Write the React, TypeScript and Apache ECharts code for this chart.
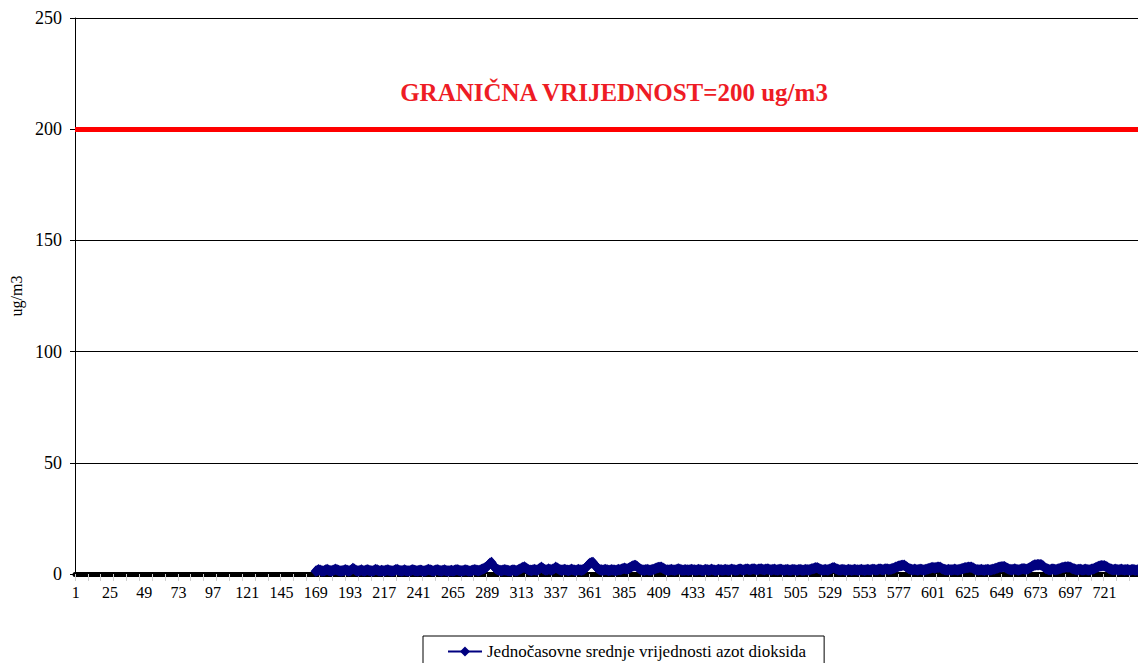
import React, { useEffect, useRef } from "react";
import * as echarts from "echarts";

// Hours of the month (1..744)
const hourCount = 744;
const hourLabels: string[] = Array.from({ length: hourCount }, (_, i) => String(i + 1));

// Hours 1..168 have no measurements
const missingHours = 168;

// Hourly NO2 means, hours 169..744 (one row per day)
const no2Values: number[] = [
  1.2, 1.6, 1.9, 1.7, 1.4, 1.3, 1.5, 1.8, 2.0, 1.7, 1.5, 1.4, 1.6, 1.9, 2.1, 1.8, 1.6, 1.4, 1.3, 1.5, 1.7, 1.9, 1.6, 1.4,
  1.5, 1.9, 2.5, 2.1, 1.7, 1.4, 1.3, 1.6, 1.8, 1.5, 1.4, 1.6, 1.9, 1.7, 1.5, 1.3, 1.4, 1.7, 2.0, 1.8, 1.5, 1.4, 1.6, 1.5,
  1.4, 1.6, 1.8, 1.7, 1.5, 1.3, 1.4, 1.6, 1.9, 2.0, 1.7, 1.5, 1.4, 1.5, 1.8, 1.6, 1.4, 1.3, 1.5, 1.7, 1.9, 1.6, 1.5, 1.4,
  1.5, 1.7, 1.6, 1.4, 1.3, 1.5, 1.8, 2.0, 1.8, 1.6, 1.4, 1.5, 1.7, 1.9, 1.7, 1.5, 1.4, 1.6, 1.8, 1.6, 1.4, 1.3, 1.5, 1.6,
  1.4, 1.6, 1.8, 1.9, 1.7, 1.5, 1.4, 1.5, 1.7, 1.8, 1.6, 1.4, 1.3, 1.5, 1.7, 1.9, 1.8, 1.6, 1.5, 1.7, 2.0, 2.3, 2.6, 2.9,
  3.4, 4.2, 4.8, 5.2, 4.1, 3.2, 2.5, 2.0, 1.8, 1.6, 1.5, 1.7, 1.9, 1.8, 1.6, 1.5, 1.4, 1.6, 1.8, 1.7, 1.5, 1.6, 1.9, 2.2,
  2.6, 2.9, 3.2, 2.7, 2.2, 1.9, 1.7, 1.6, 1.8, 2.0, 1.8, 1.7, 2.1, 2.6, 3.0, 2.5, 2.0, 1.8, 1.9, 2.2, 2.0, 1.8, 2.1, 2.5,
  3.0, 2.6, 2.2, 1.9, 1.7, 1.8, 2.0, 1.9, 1.7, 1.6, 1.8, 2.1, 1.9, 1.7, 1.6, 1.8, 2.0, 1.8, 1.7, 1.9, 2.3, 2.8, 3.5, 4.3,
  4.8, 5.1, 5.2, 4.4, 3.5, 2.7, 2.2, 1.9, 1.8, 1.7, 1.9, 2.0, 1.8, 1.6, 1.7, 1.9, 1.8, 1.7, 1.6, 1.8, 2.0, 1.9, 2.1, 2.4,
  2.6, 2.4, 2.2, 2.5, 2.9, 3.3, 3.6, 3.8, 3.8, 3.3, 2.7, 2.2, 1.9, 1.8, 1.7, 1.9, 2.0, 1.8, 1.7, 1.8, 2.0, 2.2, 2.5, 2.8,
  2.9, 3.0, 3.0, 2.6, 2.2, 1.9, 1.8, 1.7, 1.9, 2.0, 1.8, 1.7, 1.8, 2.1, 2.3, 2.0, 1.8, 1.7, 1.8, 1.9, 1.8, 1.7, 1.9, 2.0,
  1.9, 1.8, 1.7, 1.8, 2.0, 1.9, 1.7, 1.6, 1.8, 2.0, 1.9, 1.7, 1.8, 2.1, 1.9, 1.7, 1.6, 1.8, 2.0, 1.9, 1.8, 1.7, 1.9, 2.0,
  1.8, 1.7, 1.9, 2.1, 2.0, 1.8, 1.7, 1.8, 2.0, 2.2, 2.0, 1.8, 1.9, 2.1, 2.2, 2.0, 1.9, 2.1, 2.3, 2.2, 2.0, 1.9, 2.1, 2.2,
  2.2, 2.0, 1.9, 2.1, 2.2, 2.1, 1.9, 1.8, 2.0, 2.1, 1.9, 1.8, 1.9, 2.1, 2.0, 1.8, 1.7, 1.9, 2.0, 1.8, 1.7, 1.8, 2.0, 1.9,
  1.8, 1.7, 1.9, 2.0, 1.8, 1.7, 1.8, 2.0, 1.9, 1.8, 2.0, 2.2, 2.4, 2.6, 2.8, 2.8, 2.5, 2.1, 1.9, 1.8, 1.9, 2.0, 1.8, 1.9,
  2.2, 2.5, 2.8, 2.8, 2.4, 2.1, 1.9, 1.8, 1.9, 2.0, 1.8, 1.7, 1.8, 2.0, 1.9, 1.7, 1.8, 2.0, 1.9, 1.8, 1.7, 1.9, 2.0, 1.8,
  1.7, 1.8, 2.0, 1.9, 1.8, 1.9, 2.1, 2.0, 1.8, 1.9, 2.1, 2.2, 2.0, 1.9, 2.1, 2.3, 2.2, 2.0, 2.1, 2.3, 2.5, 2.7, 3.0, 3.3,
  3.5, 3.7, 3.8, 3.9, 3.9, 3.4, 2.9, 2.5, 2.2, 2.0, 1.9, 2.1, 2.0, 1.8, 1.9, 2.1, 2.0, 1.9, 1.8, 2.0, 2.2, 2.4, 2.6, 2.8,
  2.9, 2.7, 2.8, 3.0, 3.0, 3.0, 2.6, 2.2, 2.0, 1.9, 1.8, 2.0, 1.9, 1.8, 1.9, 2.1, 2.0, 1.8, 1.9, 2.1, 2.3, 2.5, 2.7, 2.8,
  2.9, 3.0, 3.0, 3.0, 2.7, 2.3, 2.0, 1.9, 1.8, 1.9, 2.0, 1.8, 1.7, 1.9, 2.0, 1.9, 1.8, 1.9, 2.1, 2.3, 2.5, 2.7, 2.9, 3.1,
  3.2, 3.3, 3.3, 2.9, 2.5, 2.2, 2.0, 1.9, 2.0, 2.2, 2.1, 1.9, 1.8, 2.0, 2.2, 2.4, 2.3, 2.1, 2.2, 2.5, 2.9, 3.3, 3.7, 4.0,
  4.1, 4.2, 4.2, 4.2, 4.1, 3.6, 3.0, 2.5, 2.2, 2.0, 1.9, 2.1, 2.2, 2.0, 1.9, 2.1, 2.3, 2.5, 2.7, 2.9, 3.0, 3.1, 3.2, 3.2,
  3.0, 2.7, 2.4, 2.2, 2.0, 1.9, 2.0, 2.1, 1.9, 1.8, 2.0, 2.1, 1.9, 1.8, 1.9, 2.1, 2.3, 2.5, 2.8, 3.1, 3.4, 3.6, 3.7, 3.7,
  3.7, 3.4, 3.0, 2.6, 2.3, 2.1, 1.9, 2.0, 2.1, 1.9, 1.8, 2.0, 2.1, 1.9, 1.8, 1.9, 2.0, 1.8, 1.7, 1.9, 2.0, 1.8, 1.7, 1.8,
];

const limitValue = 200;
const limitText = "GRANIČNA VRIJEDNOST=200 ug/m3";
const seriesName = "Jednočasovne srednje vrijednosti azot dioksida";
const yUnit = "ug/m3";
const yMin = 0;
const yMax = 250;
const yStep = 50;

const FONT = "Liberation Serif, Times New Roman, serif";

export default function App() {
  const ref = useRef<HTMLDivElement>(null);

  useEffect(() => {
    if (!ref.current) return;
    const chart = echarts.init(ref.current, undefined, { renderer: "svg" });
    const seriesData: (number | null)[] = [
      ...new Array(missingHours).fill(null),
      ...no2Values,
    ];
    chart.setOption({
      animation: false,
      backgroundColor: "#ffffff",
      textStyle: { fontFamily: FONT },
      grid: { left: 75, right: -11, top: 18, bottom: 89, containLabel: false },
      legend: {
        show: true,
        data: [seriesName],
        left: 423,
        top: 636,
        orient: "horizontal",
        borderColor: "#000",
        borderWidth: 1,
        padding: [7, 18, 20, 24],
        itemWidth: 34,
        itemHeight: 9,
        itemGap: 5,
        textStyle: { fontFamily: FONT, fontSize: 17, color: "#000" },
      },
      xAxis: {
        type: "category",
        data: hourLabels,
        boundaryGap: true,
        offset: 3,
        axisLine: { show: true, lineStyle: { color: "#000", width: 5 } },
        axisTick: {
          show: true,
          interval: 8,
          length: 7,
          lineStyle: { color: "#d0d0d0", width: 1 },
        },
        axisLabel: {
          interval: 23,
          margin: 7,
          fontFamily: FONT,
          fontSize: 16,
          color: "#000",
        },
        splitLine: { show: false },
      },
      yAxis: {
        type: "value",
        min: yMin,
        max: yMax,
        interval: yStep,
        name: yUnit,
        nameLocation: "middle",
        nameGap: 50,
        nameRotate: 90,
        nameTextStyle: { fontFamily: FONT, fontSize: 16, color: "#000" },
        axisLine: { show: true, lineStyle: { color: "#000", width: 1 } },
        axisTick: { show: true, length: 5, lineStyle: { color: "#000" } },
        axisLabel: { margin: 13, fontFamily: FONT, fontSize: 18, color: "#000" },
        splitLine: { show: true, lineStyle: { color: "#000", width: 1 } },
      },
      series: [
        {
          name: seriesName,
          type: "line",
          data: seriesData,
          connectNulls: false,
          symbol: "diamond",
          symbolSize: [9, 10],
          showAllSymbol: true,
          lineStyle: { color: "#000080", width: 2.5 },
          itemStyle: { color: "#000080", borderColor: "#000080", borderWidth: 1 },
          markLine: {
            silent: true,
            symbol: ["none", "none"],
            label: { show: false },
            lineStyle: { color: "#ff0000", width: 5, type: "solid" },
            data: [{ yAxis: limitValue }],
          },
        },
      ],
      graphic: [
        {
          type: "text",
          x: 614,
          y: 92,
          style: {
            text: limitText,
            fill: "#ee1c25",
            font: `bold 25px ${FONT}`,
            textAlign: "center",
            textVerticalAlign: "middle",
          },
        },
      ],
    });
    return () => chart.dispose();
  }, []);

  return (
    <div
      ref={ref}
      style={{ position: "fixed", left: 0, top: 0, width: 1138, height: 663 }}
    />
  );
}
